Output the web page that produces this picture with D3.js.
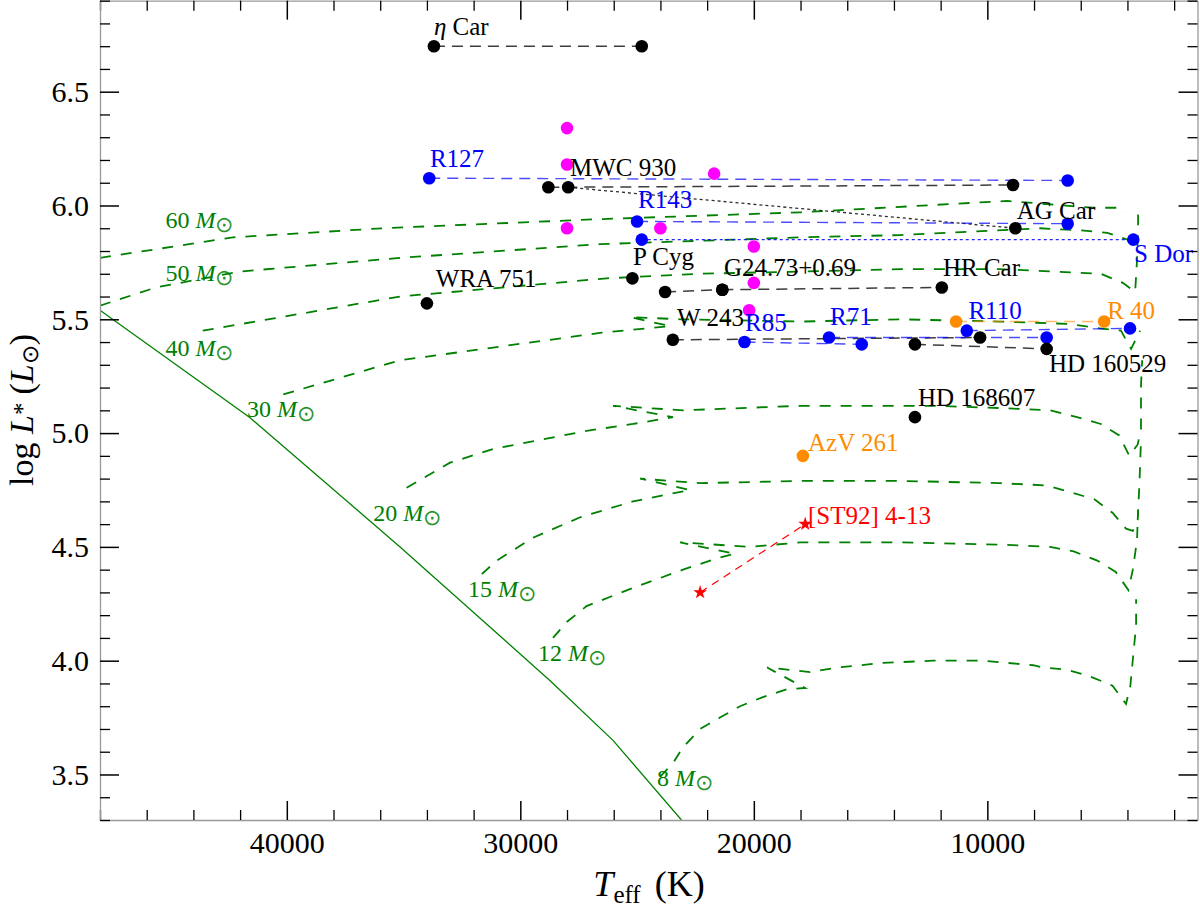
<!DOCTYPE html>
<html><head><meta charset="utf-8">
<script src="https://cdnjs.cloudflare.com/ajax/libs/d3/7.8.5/d3.min.js"></script>
<style>
body{margin:0;background:#fff;}
svg{display:block;}
text{font-family:"Liberation Serif","Times New Roman",serif;}
</style>
</head><body>
<svg id="chart" width="1200" height="907"></svg>
<script>
// ---------------- data ----------------
const xMajorTicks = [40000, 30000, 20000, 10000];
const yMajorTicks = [3.5, 4.0, 4.5, 5.0, 5.5, 6.0, 6.5];

// ZAMS (solid)
const zams = [[48000,5.54],[41600,5.07],[35150,4.50],[28700,3.91],[26030,3.65],[23100,3.30]];

// evolutionary tracks (Teff, logL)
const track60 = [[48000,5.77],[42300,5.86],[35900,5.90],[26600,5.94],[18000,5.97],[9150,6.02],[5470,5.99],[4420,5.99],[4100,5.97]];
const track50 = [[48000,5.56],[45600,5.64],[42000,5.71],[35150,5.77],[26590,5.83],[18000,5.86],[13740,5.87],[7740,5.90],[5860,5.89],[4860,5.88],[3990,5.85],[3720,5.81]];
const track40 = [[43600,5.45],[35150,5.60],[26300,5.68],[22300,5.70],[18000,5.71],[13740,5.72],[9450,5.72],[7160,5.71],[5140,5.70],[4200,5.66],[3670,5.62],[3590,5.76],[3545,5.90],[3545,5.96]];
const track30 = [[40150,5.17],[35150,5.32],[30870,5.38],[26590,5.44],[23590,5.47],[25300,5.51],[23160,5.50],[18000,5.49],[13740,5.50],[9450,5.49],[6590,5.48],[5170,5.46],[4280,5.45],[3845,5.37],[3460,5.45]];
const track20 = [[34870,4.76],[33010,4.87],[31170,4.93],[29160,4.97],[27160,5.01],[25170,5.04],[23460,5.07],[26030,5.12],[23030,5.10],[18000,5.12],[12330,5.12],[9450,5.11],[7310,5.10],[6160,5.07],[5140,5.04],[4350,4.99],[3920,4.90],[3560,4.95],[3420,5.02],[3420,5.21],[3370,5.32]];
const track15 = [[31650,4.38],[31010,4.44],[29460,4.54],[27440,4.63],[25170,4.70],[22730,4.75],[24870,4.80],[22300,4.78],[18000,4.79],[13740,4.79],[9450,4.78],[7460,4.77],[6450,4.74],[5430,4.71],[4640,4.65],[4060,4.58],[3770,4.57],[3560,4.62],[3485,4.78],[3420,4.97]];
const track12 = [[28600,4.10],[28010,4.17],[27160,4.24],[25170,4.32],[23030,4.40],[21580,4.45],[20800,4.47],[23160,4.52],[20160,4.50],[18000,4.52],[13740,4.52],[9450,4.51],[7310,4.50],[6300,4.48],[5290,4.44],[4500,4.39],[3960,4.31],[3770,4.40],[3590,4.53],[3545,4.66]];
const track8 = [[24020,3.49],[23460,3.55],[23030,3.62],[22300,3.70],[21450,3.75],[20590,3.80],[19610,3.84],[18580,3.875],[17810,3.88],[19430,3.97],[17590,3.95],[16440,3.97],[14470,3.99],[12330,4.00],[10180,4.00],[8040,3.98],[7600,3.97],[6590,3.96],[5580,3.93],[4640,3.89],[4060,3.81],[3875,3.89],[3700,4.08],[3630,4.15],[3630,4.27]];

const massNames = ["60","50","40","30","20","15","12","8"];
const massLabelPos = [[45200,5.90],[45200,5.67],[45200,5.34],[41700,5.07],[36300,4.615],[32240,4.28],[29240,4.00],[24150,3.45]];

// connecting lines between states of the same star
const blackDashed = [
  [[33700,6.70],[24800,6.70]],
  [[28800,6.08],[8900,6.09]],
  [[23800,5.62],[21350,5.63]],
  [[21350,5.63],[11950,5.64]],
  [[23470,5.41],[10310,5.42]],
  [[13100,5.39],[7460,5.37]]
];
const blackDotted = [[[27950,6.08],[8800,5.90]]];
const blackSingles = [[34000,5.57],[25200,5.68],[13100,5.07]];

const blueDashed = [
  [[33900,6.12],[6560,6.11]],
  [[25000,5.93],[6560,5.92]],
  [[20400,5.40],[15380,5.39]],
  [[16780,5.42],[7460,5.42]],
  [[10880,5.45],[3890,5.46]]
];
const blueDotted = [[[24800,5.85],[3750,5.85]]];

const orangeDashed = [[[11340,5.49],[5000,5.49]]];
const orangeSingles = [[17900,4.90]];

const redStars = [[22300,4.30],[17800,4.60]];

const magentaPoints = [[28000,6.34],[28000,6.18],[21700,6.14],[28000,5.90],[24000,5.90],[20000,5.82],[20000,5.66],[20200,5.54]];

const starLabels = [
  {t:"η Car", T:33700, L:6.75, c:"#000"},
  {t:"R127", T:33870, L:6.17, c:"#0000ff"},
  {t:"MWC 930", T:27870, L:6.13, c:"#000"},
  {t:"R143", T:24960, L:5.99, c:"#0000ff"},
  {t:"AG Car", T:8740, L:5.94, c:"#000"},
  {t:"S Dor", T:3720, L:5.75, c:"#0000ff"},
  {t:"WRA 751", T:33620, L:5.64, c:"#000"},
  {t:"P Cyg", T:25170, L:5.74, c:"#000"},
  {t:"G24.73+0.69", T:21280, L:5.69, c:"#000"},
  {t:"HR Car", T:11900, L:5.69, c:"#000"},
  {t:"W 243", T:23290, L:5.47, c:"#000"},
  {t:"R85", T:20380, L:5.45, c:"#0000ff"},
  {t:"R71", T:16740, L:5.475, c:"#0000ff"},
  {t:"R110", T:10810, L:5.50, c:"#0000ff"},
  {t:"R 40", T:4870, L:5.50, c:"#ff8c00"},
  {t:"HD 160529", T:7360, L:5.27, c:"#000"},
  {t:"HD 168607", T:12970, L:5.12, c:"#000"},
  {t:"AzV 261", T:17680, L:4.92, c:"#ff8c00"},
  {t:"[ST92] 4-13", T:17680, L:4.60, c:"#ff0000"}
];

// ---------------- drawing ----------------
const FONT = "'Liberation Serif','Times New Roman',serif";
const svg = d3.select("#chart");
const x = d3.scaleLinear().domain([48000, 1000]).range([100, 1197.5]);
const y = d3.scaleLinear().domain([3.3, 6.9]).range([820, 0.66]);
const line = d3.line().x(d => x(d[0])).y(d => y(d[1]));

svg.append("defs").append("clipPath").attr("id","clip")
  .append("rect").attr("x",100).attr("y",0.66).attr("width",1097.5).attr("height",819.34);

const plot = svg.append("g").attr("clip-path","url(#clip)");

const GREEN = "#008000";
// ZAMS
plot.append("path").attr("d", line(zams))
  .attr("fill","none").attr("stroke",GREEN).attr("stroke-width",1.3);
// tracks
[track60,track50,track40,track30,track20,track15,track12,track8].forEach(tr => {
  plot.append("path").attr("d", line(tr)).attr("fill","none").attr("stroke",GREEN)
    .attr("stroke-width",1.8).attr("stroke-dasharray","11,10");
});

function drawLines(arr, color, dash, width, op){
  arr.forEach(seg => plot.append("path").attr("d", line(seg)).attr("fill","none")
    .attr("stroke",color).attr("stroke-width",width).attr("stroke-dasharray",dash).attr("stroke-opacity",op));
}
drawLines(blackDashed, "#333", "11,7", 1.5, 0.95);
drawLines(blackDotted, "#222", "3,3", 1.3, 0.95);
drawLines(blueDashed, "#0000ff", "11,7", 1.4, 0.7);
drawLines(blueDotted, "#0000ff", "3,3", 1.3, 0.85);
drawLines(orangeDashed, "#ff8c00", "11,7", 1.4, 0.6);
plot.append("path").attr("d", line(redStars)).attr("fill","none").attr("stroke","#ff0000")
  .attr("stroke-width",1.2).attr("stroke-dasharray","8,6");

function dots(arr, color){
  plot.selectAll(null).data(arr).enter().append("circle")
    .attr("cx", d => x(d[0])).attr("cy", d => y(d[1])).attr("r", 6.3).attr("fill", color);
}
dots(magentaPoints, "#ff00ff");
dots(blueDashed.flat().concat(blueDotted.flat()), "#0000ff");
dots(blackDashed.flat().concat(blackDotted.flat(), blackSingles), "#000");
dots(orangeDashed.flat().concat(orangeSingles), "#ff8c00");
plot.selectAll(null).data(redStars).enter().append("path")
  .attr("d", d3.symbol().type(d3.symbolStar).size(60))
  .attr("transform", d => `translate(${x(d[0])},${y(d[1])})`).attr("fill","#ff0000");

// mass labels
massNames.forEach((m,i) => {
  const t = svg.append("text").attr("x", x(massLabelPos[i][0])).attr("y", y(massLabelPos[i][1]))
    .attr("fill", GREEN).attr("font-size", 24).style("font-family", FONT);
  t.append("tspan").text(m + " ");
  t.append("tspan").attr("font-style","italic").text("M");
  t.append("tspan").attr("dy",4).attr("font-size",22).attr("fill-opacity",0.85).text("⊙");
});

// star labels
starLabels.forEach(l => {
  const t = svg.append("text").attr("x", x(l.T)).attr("y", y(l.L)).attr("fill", l.c)
    .attr("font-size", 25).style("font-family", FONT);
  if (l.t.startsWith("η")) {
    t.append("tspan").attr("font-style","italic").text("η");
    t.append("tspan").text(l.t.slice(1));
  } else t.text(l.t);
});

// ---------------- axes ----------------
const xMinor = d3.range(2000, 48001, 2000).filter(v => v % 10000 !== 0);
const yMinor = d3.range(33, 70).filter(v => v % 5 !== 0).map(v => v / 10);

function styleAxis(g){
  g.select(".domain").attr("stroke","#999").attr("stroke-width",1.3);
  g.selectAll(".tick line").attr("stroke","#000").attr("stroke-width",1.5);
  g.selectAll(".tick text").style("font-family", FONT).attr("font-size",30).attr("fill","#000");
}
function minorStyle(g){
  g.select(".domain").remove();
  g.selectAll(".tick line").attr("stroke","#000").attr("stroke-width",1.3);
}
// bottom
const gb = svg.append("g").attr("transform","translate(0,820)")
  .call(d3.axisBottom(x).tickValues(xMajorTicks).tickSize(-19).tickSizeOuter(0).tickFormat(d3.format("d")));
styleAxis(gb);
gb.selectAll(".tick text").attr("y",33).attr("dy",0);
svg.append("g").attr("transform","translate(0,820)")
  .call(d3.axisBottom(x).tickValues(xMinor).tickSize(-10).tickSizeOuter(0).tickFormat("")).call(minorStyle);
// top
const gt = svg.append("g").attr("transform","translate(0,0.66)")
  .call(d3.axisTop(x).tickValues(xMajorTicks).tickSize(-19).tickSizeOuter(0).tickFormat(""));
styleAxis(gt);
svg.append("g").attr("transform","translate(0,0.66)")
  .call(d3.axisTop(x).tickValues(xMinor).tickSize(-10).tickSizeOuter(0).tickFormat("")).call(minorStyle);
// left
const gl = svg.append("g").attr("transform","translate(100,0)")
  .call(d3.axisLeft(y).tickValues(yMajorTicks).tickSize(-19).tickSizeOuter(0).tickFormat(d3.format(".1f")));
styleAxis(gl);
gl.selectAll(".tick text").attr("x",-11).attr("dy","0.33em");
svg.append("g").attr("transform","translate(100,0)")
  .call(d3.axisLeft(y).tickValues(yMinor).tickSize(-10).tickSizeOuter(0).tickFormat("")).call(minorStyle);
// right
const gr = svg.append("g").attr("transform","translate(1197.5,0)")
  .call(d3.axisRight(y).tickValues(yMajorTicks).tickSize(-19).tickSizeOuter(0).tickFormat(""));
styleAxis(gr);
svg.append("g").attr("transform","translate(1197.5,0)")
  .call(d3.axisRight(y).tickValues(yMinor).tickSize(-10).tickSizeOuter(0).tickFormat("")).call(minorStyle);

// axis titles
const xt = svg.append("text").attr("x", 649).attr("y", 896).attr("text-anchor","middle")
  .attr("font-size",36).attr("fill","#000").style("font-family", FONT);
xt.append("tspan").attr("font-style","italic").text("T");
xt.append("tspan").attr("font-size",25).attr("dy",7).text("eff");
xt.append("tspan").attr("dy",-7).attr("dx",14).text("(K)");

const yt = svg.append("text").attr("transform","translate(33,410) rotate(-90)").attr("text-anchor","middle")
  .attr("font-size",34).attr("fill","#000").style("font-family", FONT);
yt.append("tspan").text("log ");
yt.append("tspan").attr("font-style","italic").text("L");
yt.append("tspan").attr("font-size",25).attr("dy",-2).text("*");
yt.append("tspan").attr("dy",2).attr("dx",8).text("(");
yt.append("tspan").attr("font-style","italic").text("L");
yt.append("tspan").attr("font-size",23).attr("dy",5).text("⊙");
yt.append("tspan").attr("dy",-5).text(")");
</script>
</body></html>
